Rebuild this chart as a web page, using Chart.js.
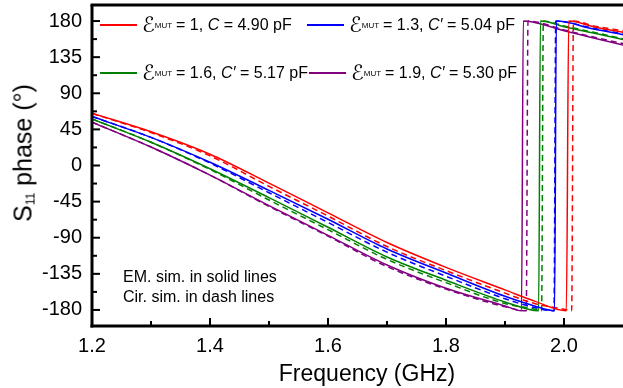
<!DOCTYPE html>
<html lang="en">
<head>
  <meta charset="UTF-8" />
  <title>S11 phase</title>
  <script src="https://cdn.jsdelivr.net/npm/chart.js"></script>
  <style>
    html, body { margin: 0; padding: 0; background: #fff; }
    #wrap { position: relative; width: 623px; height: 388px; font-family: "Liberation Sans", Arial, sans-serif; color: #000; }
    #wrap canvas { position: absolute; left: 0; top: 0; }
    .item { position: absolute; height: 20px; display: flex; align-items: center; white-space: nowrap; font-size: 16px; }
    .item .swatch { display: inline-block; width: 37px; height: 1.5px; margin-right: 5px; }
    .item .e { font-family: "DejaVu Serif", "DejaVu Sans", serif; font-style: italic; font-size: 21px; }
    .item sub { font-size: 8px; vertical-align: -5px; margin-right: 4px; }
    .note { position: absolute; left: 123px; font-size: 16px; white-space: nowrap; }
    #ytitle { position: absolute; left: 23px; top: 153px; transform: translate(-50%, -50%) rotate(-90deg); font-size: 25px; white-space: nowrap; }
    #ytitle sub { font-size: 12px; vertical-align: -3px; }
    #xtitle { position: absolute; left: 367px; top: 373px; transform: translate(-50%, -50%); font-size: 23px; white-space: nowrap; }
  </style>
</head>
<body>
  <div id="wrap">
    <canvas id="phaseChart" width="623" height="388"></canvas>

    <div class="item" style="left:100px; top:15px;"><span class="swatch" style="background:#ff0000"></span><span class="e">ℰ</span><sub>MUT</sub>= 1, <i>&nbsp;C</i>&nbsp;= 4.90 pF</div>
    <div class="item" style="left:307px; top:15px;"><span class="swatch" style="background:#0000ff"></span><span class="e">ℰ</span><sub>MUT</sub>= 1.3, <i>&nbsp;C′</i>&nbsp;= 5.04 pF</div>
    <div class="item" style="left:100px; top:63px;"><span class="swatch" style="background:#008000"></span><span class="e">ℰ</span><sub>MUT</sub>= 1.6, <i>&nbsp;C′</i>&nbsp;= 5.17 pF</div>
    <div class="item" style="left:309px; top:63px;"><span class="swatch" style="background:#800080"></span><span class="e">ℰ</span><sub>MUT</sub>= 1.9, <i>&nbsp;C′</i>&nbsp;= 5.30 pF</div>

    <div class="note" style="top:268px;">EM. sim. in solid lines</div>
    <div class="note" style="top:288px;">Cir. sim. in dash lines</div>

    <div id="ytitle">S<sub>11</sub> phase (°)</div>
    <div id="xtitle">Frequency (GHz)</div>
  </div>

  <script>
    // tick values
    const xTickValues = [1.2, 1.4, 1.6, 1.8, 2.0];
    const xMinorTicks = [1.3, 1.5, 1.7, 1.9];
    const yTickValues = [-180, -135, -90, -45, 0, 45, 90, 135, 180];
    const yMinorTicks = [-157.5, -112.5, -67.5, -22.5, 22.5, 67.5, 112.5, 157.5];

    // EM simulation (solid)
    const freqRedEM = [1.2, 1.3, 1.4, 1.5, 1.6, 1.7, 1.8, 1.9, 1.95, 2.004, 2.008, 2.05, 2.1];
    const phaseRedEM = [65, 42, 14, -22, -59, -96, -127, -155, -169, -181, 180, 173, 166];
    const freqBlueEM = [1.2, 1.3, 1.4, 1.5, 1.6, 1.7, 1.8, 1.9, 1.95, 1.984, 1.987, 2.05, 2.1];
    const phaseBlueEM = [61, 35, 4, -31, -67, -104, -134, -163, -175, -181, 180, 170, 163];
    const freqGreenEM = [1.2, 1.3, 1.4, 1.5, 1.6, 1.7, 1.8, 1.9, 1.957, 1.96, 2.0, 2.05, 2.1];
    const phaseGreenEM = [58, 29, -4, -40, -77, -114, -143, -170, -181, 180, 173, 165, 157];
    const freqPurpleEM = [1.2, 1.3, 1.4, 1.5, 1.6, 1.7, 1.8, 1.9, 1.928, 1.931, 2.0, 2.05, 2.1];
    const phasePurpleEM = [54, 23, -12, -50, -87, -124, -153, -175, -181, 180, 168, 159, 150];

    // circuit simulation (dashed)
    const freqRedCir = [1.2, 1.3, 1.4, 1.5, 1.6, 1.7, 1.8, 1.9, 1.95, 2.0, 2.013, 2.016, 2.05, 2.1];
    const phaseRedCir = [65, 41, 12, -26, -63, -101, -131, -159, -172, -179, -181, 180, 174, 168];
    const freqBlueCir = [1.2, 1.3, 1.4, 1.5, 1.6, 1.7, 1.8, 1.9, 1.95, 1.983, 1.986, 2.05, 2.1];
    const phaseBlueCir = [61, 35, 3, -34, -71, -108, -138, -166, -177, -181, 180, 171, 164];
    const freqGreenCir = [1.2, 1.3, 1.4, 1.5, 1.6, 1.7, 1.8, 1.9, 1.95, 1.962, 1.965, 2.0, 2.05, 2.1];
    const phaseGreenCir = [58, 29, -5, -43, -80, -117, -146, -172, -179, -181, 180, 174, 166, 158];
    const freqPurpleCir = [1.2, 1.3, 1.4, 1.5, 1.6, 1.7, 1.8, 1.9, 1.936, 1.939, 2.0, 2.05, 2.1];
    const phasePurpleCir = [54, 23, -12, -51, -88, -126, -154, -176, -181, 180, 169, 160, 152];

    function toPoints(xs, ys) {
      return xs.map((f, i) => ({ x: f, y: ys[i] }));
    }

    function series(label, xs, ys, color, dashed) {
      return {
        label: label,
        data: toPoints(xs, ys),
        borderColor: color,
        borderWidth: 1.5,
        borderDash: dashed ? [6, 4] : [],
        pointRadius: 0,
        fill: false,
        cubicInterpolationMode: 'monotone'
      };
    }

    // axes frame and inward ticks
    const framePlugin = {
      id: 'frame',
      afterDraw(chart) {
        const { ctx, chartArea: a, scales: { x, y } } = chart;
        const line = (x1, y1, x2, y2) => {
          ctx.beginPath(); ctx.moveTo(x1, y1); ctx.lineTo(x2, y2); ctx.stroke();
        };
        ctx.save();
        ctx.strokeStyle = '#000';
        ctx.lineWidth = 2;
        xTickValues.forEach(v => { const p = x.getPixelForValue(v); line(p, a.bottom, p, a.bottom - 8); });
        xMinorTicks.forEach(v => { const p = x.getPixelForValue(v); line(p, a.bottom, p, a.bottom - 5); });
        yTickValues.forEach(v => { const p = y.getPixelForValue(v); line(a.left, p, a.left + 8, p); });
        yMinorTicks.forEach(v => { const p = y.getPixelForValue(v); line(a.left, p, a.left + 5, p); });
        ctx.lineWidth = 3;
        line(a.left, a.top, a.left, a.bottom + 1.5);
        line(a.left - 1.5, a.bottom, a.right, a.bottom);
        line(a.left - 1.5, a.top, a.right, a.top);
        ctx.restore();
      }
    };

    const chart = new Chart(document.getElementById('phaseChart').getContext('2d'), {
      type: 'line',
      data: {
        datasets: [
          series('EM 1', freqRedEM, phaseRedEM, '#ff0000', false),
          series('EM 1.3', freqBlueEM, phaseBlueEM, '#0000ff', false),
          series('EM 1.6', freqGreenEM, phaseGreenEM, '#008000', false),
          series('EM 1.9', freqPurpleEM, phasePurpleEM, '#800080', false),
          series('Cir 1', freqRedCir, phaseRedCir, '#ff0000', true),
          series('Cir 1.3', freqBlueCir, phaseBlueCir, '#0000ff', true),
          series('Cir 1.6', freqGreenCir, phaseGreenCir, '#008000', true),
          series('Cir 1.9', freqPurpleCir, phasePurpleCir, '#800080', true)
        ]
      },
      options: {
        responsive: false,
        animation: false,
        layout: { padding: { top: 5, right: 0, left: 0, bottom: 0 } },
        plugins: {
          legend: { display: false },
          tooltip: { enabled: false }
        },
        scales: {
          x: {
            type: 'linear',
            min: 1.2,
            max: 2.1,
            afterBuildTicks: s => { s.ticks = xTickValues.map(v => ({ value: v })); },
            afterFit: s => { s.height = 62; s.paddingLeft = 0; s.paddingRight = 0; },
            grid: { display: false, drawTicks: false },
            border: { display: false },
            ticks: {
              padding: 8,
              color: '#000',
              font: { family: '"Liberation Sans", Arial, sans-serif', size: 20 },
              callback: v => v.toFixed(1),
              maxRotation: 0
            }
          },
          y: {
            type: 'linear',
            min: -200,
            max: 200,
            afterBuildTicks: s => { s.ticks = yTickValues.map(v => ({ value: v })); },
            afterFit: s => { s.width = 92; s.paddingTop = 0; s.paddingBottom = 0; },
            grid: { display: false, drawTicks: false },
            border: { display: false },
            ticks: {
              padding: 10,
              color: '#000',
              font: { family: '"Liberation Sans", Arial, sans-serif', size: 20 }
            }
          }
        }
      },
      plugins: [framePlugin]
    });
  </script>
</body>
</html>
